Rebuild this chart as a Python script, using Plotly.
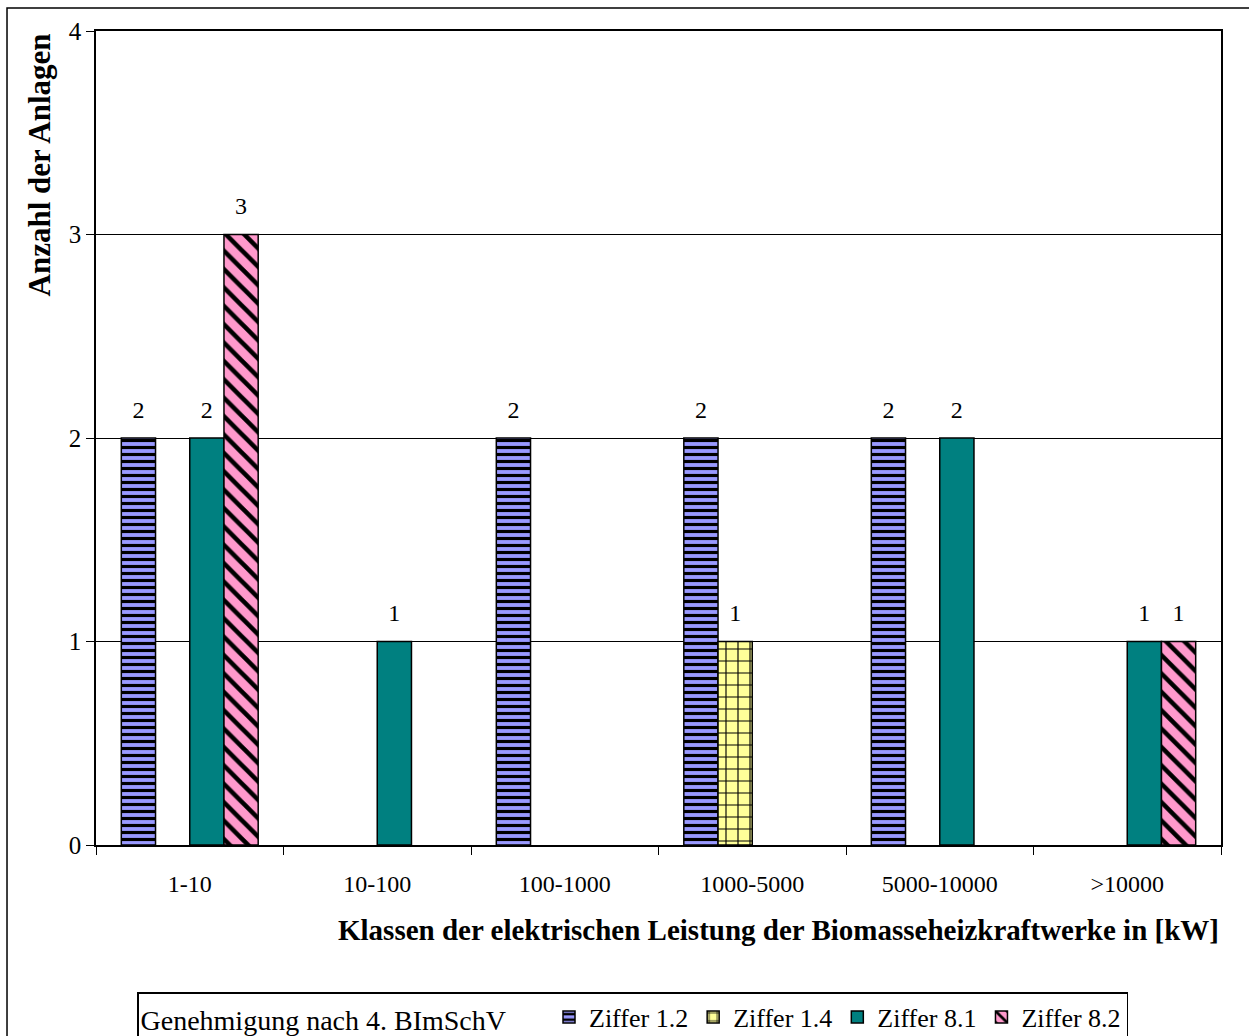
import plotly.graph_objects as go

# Leistungsklassen (kW) und Anzahl der Anlagen je Genehmigungsziffer
klassen = ["1-10", "10-100", "100-1000", "1000-5000", "5000-10000", ">10000"]
ziffer_1_2 = [2, None, 2, 2, 2, None]
ziffer_1_4 = [None, None, None, 1, None, None]
ziffer_8_1 = [2, 1, None, None, 2, 1]
ziffer_8_2 = [3, None, None, None, None, 1]

serif = "Liberation Serif, Times New Roman, serif"
GAP = 0.27

series = [
    ("Ziffer 1.2", ziffer_1_2, "#9999FF", dict(shape="-", size=7, solidity=0.45)),
    ("Ziffer 1.4", ziffer_1_4, "#FFFF99", dict(shape="+", size=12, solidity=0.18)),
    ("Ziffer 8.1", ziffer_8_1, "#008080", dict(shape="")),
    ("Ziffer 8.2", ziffer_8_2, "#FF99CC", dict(shape="\\", size=13, solidity=0.35)),
]

fig = go.Figure()
for name, vals, col, pat in series:
    pattern = dict(pat)
    if pattern["shape"]:
        pattern.update(fillmode="replace", bgcolor=col, fgcolor="black")
    fig.add_trace(go.Bar(
        name=name,
        x=klassen,
        y=vals,
        marker=dict(color=col, line=dict(color="black", width=1.5), pattern=pattern),
    ))

# value labels: grouped scatter points on the bar tops, text placed above them
for name, vals, col, pat in series:
    fig.add_trace(go.Scatter(
        x=klassen,
        y=vals,
        mode="markers+text",
        text=[("" if v is None else str(v)) for v in vals],
        textposition="top center",
        textfont=dict(family=serif, size=24, color="black"),
        marker=dict(size=21, color="rgba(0,0,0,0)"),
        showlegend=False,
        hoverinfo="skip",
        cliponaxis=False,
    ))

fig.update_layout(
    width=1249,
    height=1036,
    margin=dict(l=96, r=28, t=31, b=191),
    paper_bgcolor="white",
    plot_bgcolor="white",
    barmode="group",
    bargap=GAP,
    bargroupgap=0,
    scattermode="group",
    scattergap=GAP,
    font=dict(family=serif, size=22, color="black"),
    showlegend=True,
    legend=dict(
        orientation="h",
        xref="container", yref="container",
        x=137 / 1249, xanchor="left",
        y=1 - 992 / 1036, yanchor="top",
        bordercolor="black", borderwidth=1.5,
        bgcolor="white",
        font=dict(family=serif, size=26, color="black"),
        title=dict(text="Genehmigung nach 4. BImSchV&nbsp;&nbsp;&nbsp;&nbsp;&nbsp;", side="left",
                   font=dict(family=serif, size=28, color="black")),
        traceorder="normal",
        itemwidth=30,
    ),
    xaxis=dict(
        type="category",
        showline=True, linecolor="black", linewidth=1.5, mirror=True,
        ticks="outside", tickson="boundaries", ticklen=8, tickcolor="black",
        showgrid=False,
        tickfont=dict(family=serif, size=24, color="black"),
        ticklabelstandoff=16,
    ),
    yaxis=dict(
        range=[0, 4],
        tickvals=[0, 1, 2, 3, 4],
        showline=True, linecolor="black", linewidth=1.5, mirror=True,
        ticks="outside", ticklen=8, tickcolor="black",
        showgrid=True, gridcolor="black", gridwidth=1,
        zeroline=False,
        tickfont=dict(family=serif, size=25, color="black"),
    ),
    annotations=[
        dict(text="<b>Klassen der elektrischen Leistung der Biomasseheizkraftwerke in [kW]</b>",
             xref="paper", yref="paper", x=1.0, y=-0.105, xanchor="right", yanchor="middle",
             showarrow=False, font=dict(family=serif, size=29, color="black")),
        dict(text="<b>Anzahl der Anlagen</b>",
             xref="paper", yref="paper", x=-0.0498, y=1.0, xanchor="center", yanchor="top",
             textangle=-90, showarrow=False, font=dict(family=serif, size=31, color="black")),
    ],
    shapes=[
        dict(type="rect", xref="paper", yref="paper",
             x0=-0.0791, y0=-0.4, x1=1.2, y1=1.02826,
             line=dict(color="black", width=1.5), layer="below"),
    ],
)

fig.write_html("out.html")
